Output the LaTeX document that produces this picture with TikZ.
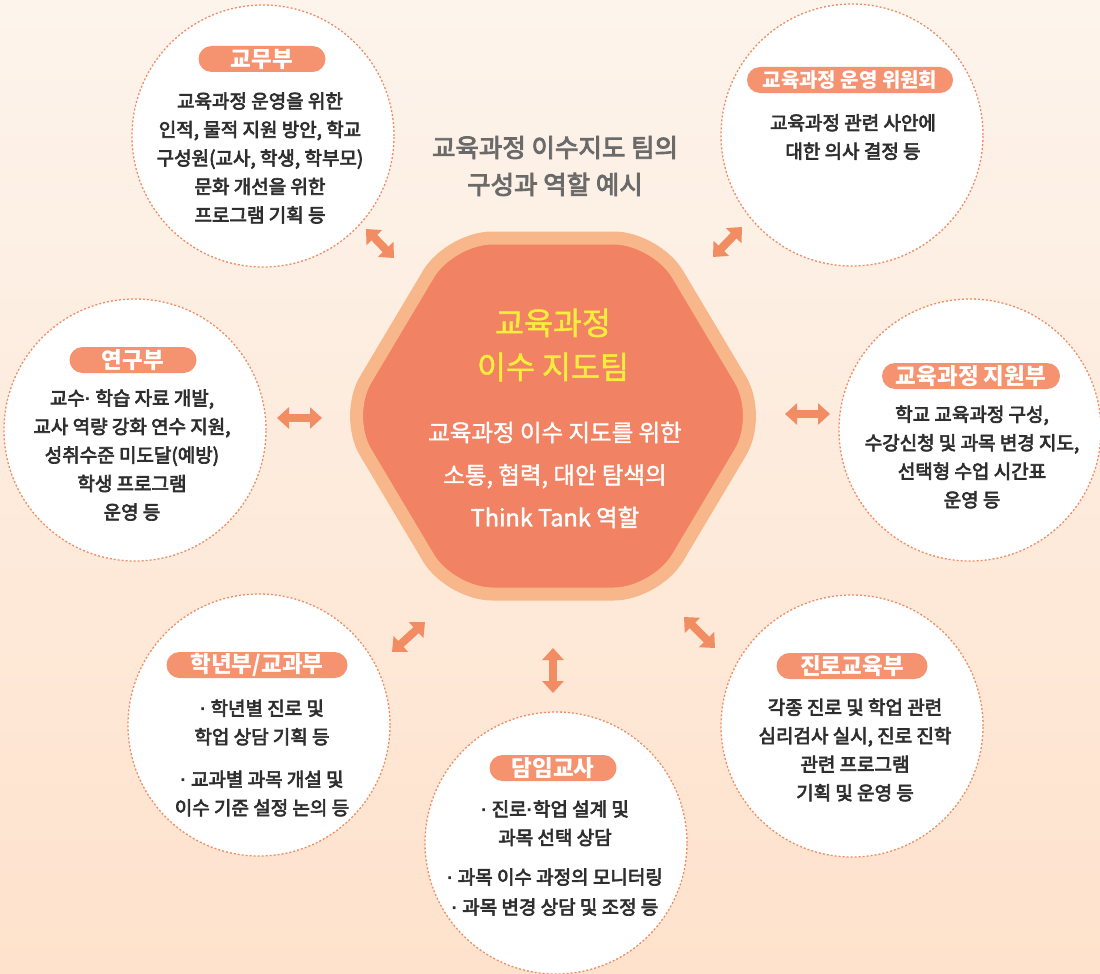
\documentclass[tikz,border=0pt]{standalone}
\usepackage{fontspec}
\setmainfont{Noto Sans CJK KR}
\newfontfamily\krmed[FakeBold=3.4]{Noto Sans CJK KR}
\newfontfamily\krhex[FakeBold=1.6]{Noto Sans CJK KR}
\newfontfamily\dotfont{Liberation Sans}
\newcommand{\mdot}{{\dotfont\bfseries ·}}
\usetikzlibrary{arrows.meta}
\definecolor{bgtop}{HTML}{FDF4EC}
\definecolor{bgbot}{HTML}{FEE2CC}
\definecolor{dashc}{HTML}{F08C63}
\definecolor{pillc}{HTML}{F5926F}
\definecolor{arrc}{HTML}{F28C62}
\definecolor{hexout}{HTML}{F8B78B}
\definecolor{hexin}{HTML}{F28264}
\definecolor{ylw}{HTML}{F8EC3C}
\definecolor{txt}{HTML}{2E2E2E}
\definecolor{ttl}{HTML}{6A6A6A}
\begin{document}
\begin{tikzpicture}[x=1pt,y=-1pt,
  unit/.style={circle, draw=dashc, line width=1.3pt, dash pattern=on 2pt off 2pt, fill=white, minimum size=262pt, inner sep=0pt},
  pill/.style={fill=pillc, rounded corners=13pt, minimum height=26pt, inner sep=0pt, text=white, font=\bfseries\fontsize{22.5}{22.5}\selectfont},
  body/.style={text=txt, align=center, font=\krmed\fontsize{19}{28.5}\selectfont, inner sep=0pt},
  link/.style={arrc, line width=8pt, {Triangle[width=21pt,length=12pt]}-{Triangle[width=21pt,length=12pt]}},
]
\shade[top color=bgtop, bottom color=bgbot] (0,0) rectangle (1100,974);
\useasboundingbox (0,0) rectangle (1100,974);

% title
\node[text=ttl, align=center, font=\krmed\fontsize{25.5}{37}\selectfont, inner sep=0pt] (title) at (555,166) {교육과정 이수지도 팀의\\구성과 역할 예시};

% circles
\node[unit] (gyomu) at (263,136) {};
\node[unit] (wiwon) at (852,135) {};
\node[unit] (yeongu) at (135,430) {};
\node[unit] (jiwon) at (970,430) {};
\node[unit] (haknyeon) at (259,725) {};
\node[unit] (damim) at (556,843) {};
\node[unit] (jinro) at (852,726) {};

% hexagon
\coordinate (hex) at (553,416);
\draw[hexout, line width=13pt, fill=hexin, rounded corners=42pt, line join=round]
  (344,416) -- (450,238) -- (656,238) -- (762,416) -- (656,594) -- (450,594) -- cycle;
\node[text=ylw, align=center, font=\krhex\fontsize{31.5}{44}\selectfont, inner sep=0pt] (hextitle) at (553,345) {교육과정\\이수 지도팀};
\node[text=white, align=center, font=\krhex\fontsize{23.5}{42.5}\selectfont, inner sep=0pt] (hexbody) at (555,475) {교육과정 이수 지도를 위한\\소통, 협력, 대안 탐색의\\Think Tank 역할};

% pills
\node[pill, minimum width=127pt] (gyomuL) at (262,59) {교무부};
\node[pill, minimum width=206pt, font=\bfseries\fontsize{20}{20}\selectfont] (wiwonL) at (850,80) {교육과정 운영 위원회};
\node[pill, minimum width=127pt] (yeonguL) at (133,360) {연구부};
\node[pill, minimum width=178pt] (jiwonL) at (971,376) {교육과정 지원부};
\node[pill, minimum width=181pt] (haknyeonL) at (257,665) {학년부/교과부};
\node[pill, minimum width=127pt] (damimL) at (553,768) {담임교사};
\node[pill, minimum width=151pt] (jinroL) at (852,666) {진로교육부};

% bodies
\node[body] (gyomuT) at (260,158) {교육과정 운영을 위한\\인적, 물적 지원 방안, 학교\\구성원(교사, 학생, 학부모)\\문화 개선을 위한\\프로그램 기획 등};
\node[body] (wiwonT) at (853,137) {교육과정 관련 사안에\\대한 의사 결정 등};
\node[body] (yeonguT) at (132,455) {교수\mdot{} 학습 자료 개발,\\교사 역량 강화 연수 지원,\\성취수준 미도달(예방)\\학생 프로그램\\운영 등};
\node[body] (jiwonT) at (972,457) {학교 교육과정 구성,\\수강신청 및 과목 변경 지도,\\선택형 수업 시간표\\운영 등};
\node[body] (haknyeonT) at (262,758) {\mdot{} 학년별 진로 및\\학업 상담 기획 등\\[14pt]\mdot{} 교과별 과목 개설 및\\이수 기준 설정 논의 등};
\node[body] (damimT) at (555,858) {\mdot{} 진로\mdot{}학업 설계 및\\과목 선택 상담\\[11pt]\mdot{} 과목 이수 과정의 모니터링\\[1.5pt]\mdot{} 과목 변경 상담 및 조정 등};
\node[body] (jinroT) at (855,750) {각종 진로 및 학업 관련\\심리검사 실시, 진로 진학\\관련 프로그램\\기획 및 운영 등};

% arrow ends
\coordinate (a1s) at (366,229); \coordinate (a1e) at (394,258);
\coordinate (a2s) at (713,257); \coordinate (a2e) at (742,227);
\coordinate (a3s) at (277,418); \coordinate (a3e) at (322,418);
\coordinate (a4s) at (785,414); \coordinate (a4e) at (830,414);
\coordinate (a5s) at (392,652); \coordinate (a5e) at (425,622);
\coordinate (a6s) at (553,648); \coordinate (a6e) at (553,693);
\coordinate (a7s) at (684,617); \coordinate (a7e) at (715,648);
\foreach \i in {1,...,7} { \draw[link] (a\i s) -- (a\i e); }
\end{tikzpicture}
\end{document}
